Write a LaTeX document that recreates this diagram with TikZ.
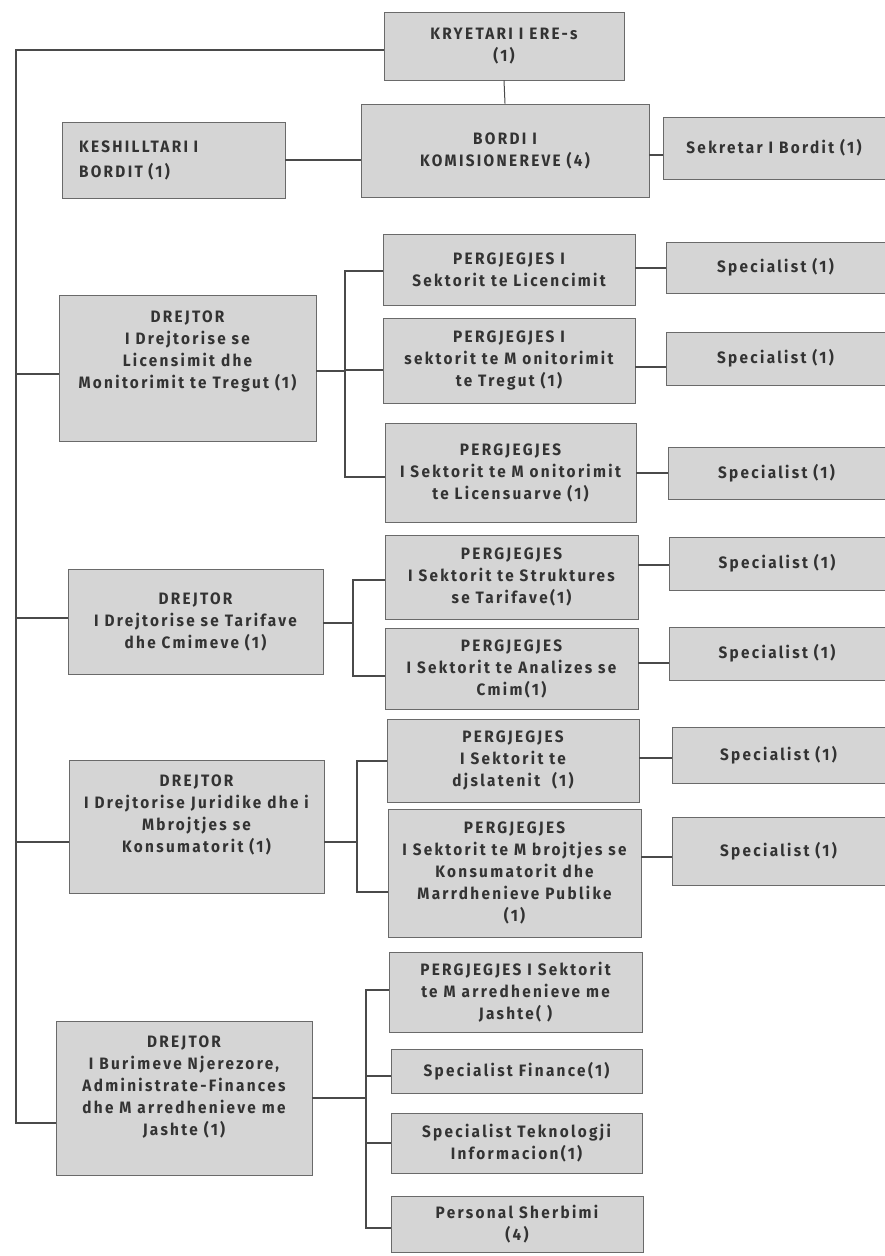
\documentclass[tikz,border=0pt]{standalone}
\usepackage{fontspec}
\newfontfamily\orgfont{Fira Sans}[LetterSpace=14, FakeStretch=0.93]
\definecolor{boxfill}{HTML}{D5D5D5}
\definecolor{boxline}{HTML}{6A6A6A}
\definecolor{txt}{HTML}{333333}
\definecolor{lin}{HTML}{4A4A4A}
\begin{document}
\begin{tikzpicture}[x=1pt,y=-1pt,
  box/.style={draw=boxline, fill=boxfill, line width=0.9pt, rectangle, inner sep=0pt,
    align=center, text=txt, font=\orgfont\bfseries\fontsize{16.5}{22}\selectfont},
  lbl/.style={inner sep=0pt, align=center, text=txt, font=\orgfont\bfseries\fontsize{16.5}{22}\selectfont},
  conn/.style={draw=lin, line width=2pt}]
\useasboundingbox[fill=white] (0,0) rectangle (885,1256);

% top
\node[box, minimum width=240pt, minimum height=68pt] (kry) at (504,46) {KRYETARI I ERE-s\\(1)};
\node[box, minimum width=288pt, minimum height=93pt] (bordi) at (505,150.5) {BORDI I\\KOMISIONEREVE (4)};
\node[box, minimum height=76pt, inner xsep=17pt, text width=189pt, align=left, font=\orgfont\bfseries\fontsize{16.5}{25}\selectfont] (kesh) at (173.5,160) {KESHILLTARI I\\BORDIT (1)};
\node[box, minimum width=222pt, minimum height=62pt] (sek) at (774,148) {Sekretar I Bordit (1)};

% section 1
\node[box, minimum width=257pt, minimum height=146pt] (d1) at (187.5,368) {};
\node[lbl] (d1t) at (187.5,351) {DREJTOR\\I Drejtorise se\\Licensimit dhe\\Monitorimit te Tregut (1)};
\node[box, minimum width=252pt, minimum height=71pt] (p11) at (509,269.5) {PERGJEGJES I\\Sektorit te Licencimit};
\node[box, minimum width=252pt, minimum height=85pt] (p12) at (509,360.5) {PERGJEGJES I\\sektorit te M onitorimit\\te Tregut (1)};
\node[box, minimum width=251pt, minimum height=99pt] (p13) at (510.5,472.5) {PERGJEGJES\\I Sektorit te M onitorimit\\te Licensuarve (1)};
\node[box, minimum width=219pt, minimum height=51pt] (s11) at (775.5,267.5) {Specialist (1)};
\node[box, minimum width=219pt, minimum height=53pt] (s12) at (775.5,358.5) {Specialist (1)};
\node[box, minimum width=217pt, minimum height=52pt] (s13) at (776.5,473) {Specialist (1)};

% section 2
\node[box, minimum width=255pt, minimum height=105pt] (d2) at (195.5,621.5) {DREJTOR\\I Drejtorise se Tarifave\\dhe Cmimeve (1)};
\node[box, minimum width=253pt, minimum height=84pt] (p21) at (511.5,577) {PERGJEGJES\\I Sektorit te Struktures\\se Tarifave(1)};
\node[box, minimum width=253pt, minimum height=81pt] (p22) at (511.5,668.5) {PERGJEGJES\\I Sektorit te Analizes se\\Cmim(1)};
\node[box, minimum width=216pt, minimum height=53pt] (s21) at (777,563.5) {Specialist (1)};
\node[box, minimum width=216pt, minimum height=53pt] (s22) at (777,653.5) {Specialist (1)};

% section 3
\node[box, minimum width=255pt, minimum height=133pt] (d3) at (196.5,826.5) {};
\node[lbl] (d3t) at (196.5,815) {DREJTOR\\I Drejtorise Juridike dhe i\\Mbrojtjes se\\Konsumatorit (1)};
\node[box, minimum width=252pt, minimum height=83pt] (p31) at (513,760.5) {PERGJEGJES\\I Sektorit te\\djslatenit\ \ (1)};
\node[box, minimum width=253pt, minimum height=128pt] (p32) at (514.5,873) {PERGJEGJES\\I Sektorit te M brojtjes se\\Konsumatorit dhe\\Marrdhenieve Publike\\(1)};
\node[box, minimum width=213pt, minimum height=56pt] (s31) at (778.5,755) {Specialist (1)};
\node[box, minimum width=213pt, minimum height=68pt] (s32) at (778.5,851) {Specialist (1)};

% section 4
\node[box, minimum width=256pt, minimum height=154pt] (d4) at (184,1098) {};
\node[lbl] (d4t) at (184,1087) {DREJTOR\\I Burimeve Njerezore,\\Administrate-Finances\\dhe M arredhenieve me\\Jashte (1)};
\node[box, minimum width=253pt, minimum height=80pt] (p41) at (515.5,992) {PERGJEGJES I Sektorit\\te M arredhenieve me\\Jashte( )};
\node[box, minimum width=251pt, minimum height=44pt] (s41) at (516.5,1071) {Specialist Finance(1)};
\node[box, minimum width=251pt, minimum height=60pt] (s42) at (516.5,1143) {Specialist Teknologji\\Informacion(1)};
\node[box, minimum width=252pt, minimum height=56pt] (s43) at (517,1224) {Personal Sherbimi\\(4)};

% bus x positions
\coordinate (L) at (16,0);
\coordinate (b1) at (345,0);
\coordinate (b2) at (353,0);
\coordinate (b3) at (357,0);
\coordinate (b4) at (366,0);

% connection points
\coordinate (kryw) at ([yshift=-4pt]kry.west);
\coordinate (d1w) at ([yshift=-6pt]d1.west);
\coordinate (d2w) at ([yshift=4pt]d2.west);
\coordinate (d3w) at ([yshift=-15pt]d3.west);
\coordinate (d4w) at ([yshift=-25pt]d4.west);
\coordinate (sekw) at ([yshift=-7pt]sek.west);
\coordinate (d1e) at ([yshift=-3pt]d1.east);
\coordinate (p11w) at ([yshift=-1.5pt]p11.west);
\coordinate (p12w) at ([yshift=-9.5pt]p12.west);
\coordinate (p13w) at ([yshift=-4.5pt]p13.west);
\coordinate (s12w) at ([yshift=-8.5pt]s12.west);
\coordinate (d2e) at ([yshift=-1.5pt]d2.east);
\coordinate (p21w) at ([yshift=-3pt]p21.west);
\coordinate (p22w) at ([yshift=-7.5pt]p22.west);
\coordinate (s21w) at ([yshift=-1.5pt]s21.west);
\coordinate (s22w) at ([yshift=-9.5pt]s22.west);
\coordinate (d3e) at ([yshift=-15pt]d3.east);
\coordinate (p32w) at ([yshift=-19pt]p32.west);
\coordinate (s31w) at ([yshift=-3pt]s31.west);
\coordinate (s32w) at ([yshift=-6pt]s32.west);
\coordinate (p41w) at ([yshift=2pt]p41.west);
\coordinate (s41w) at ([yshift=-5pt]s41.west);
\coordinate (s43w) at ([yshift=-4pt]s43.west);

% main left line
\draw[conn] (kryw) -| (L |- d4w) -- (d4w);
\draw[conn] (d1w) -- (L |- d1w);
\draw[conn] (d2w) -- (L |- d2w);
\draw[conn] (d3w) -- (L |- d3w);

% top connectors
\draw[draw=lin, line width=1pt] (kry.south) -- (bordi.north);
\draw[conn] (kesh.east) -- (kesh.east -| bordi.west);
\draw[conn] (sekw) -- (sekw -| bordi.east);

% section 1 connectors
\draw[conn] (d1e) -- (d1e -| b1);
\draw[conn] (p11w) -| (b1 |- p13w) -- (p13w);
\draw[conn] (p12w) -- (p12w -| b1);
\draw[conn] (s11.west) -- (s11.west -| p11.east);
\draw[conn] (s12w) -- (s12w -| p12.east);
\draw[conn] (s13.west) -- (s13.west -| p13.east);

% section 2 connectors
\draw[conn] (d2e) -- (d2e -| b2);
\draw[conn] (p21w) -| (b2 |- p22w) -- (p22w);
\draw[conn] (s21w) -- (s21w -| p21.east);
\draw[conn] (s22w) -- (s22w -| p22.east);

% section 3 connectors
\draw[conn] (d3e) -- (d3e -| b3);
\draw[conn] (p31.west) -| (b3 |- p32w) -- (p32w);
\draw[conn] (s31w) -- (s31w -| p31.east);
\draw[conn] (s32w) -- (s32w -| p32.east);

% section 4 connectors
\draw[conn] (d4.east) -- (d4.east -| b4);
\draw[conn] (p41w) -| (b4 |- s43w) -- (s43w);
\draw[conn] (s41w) -- (s41w -| b4);
\draw[conn] (s42.west) -- (s42.west -| b4);
\end{tikzpicture}
\end{document}
